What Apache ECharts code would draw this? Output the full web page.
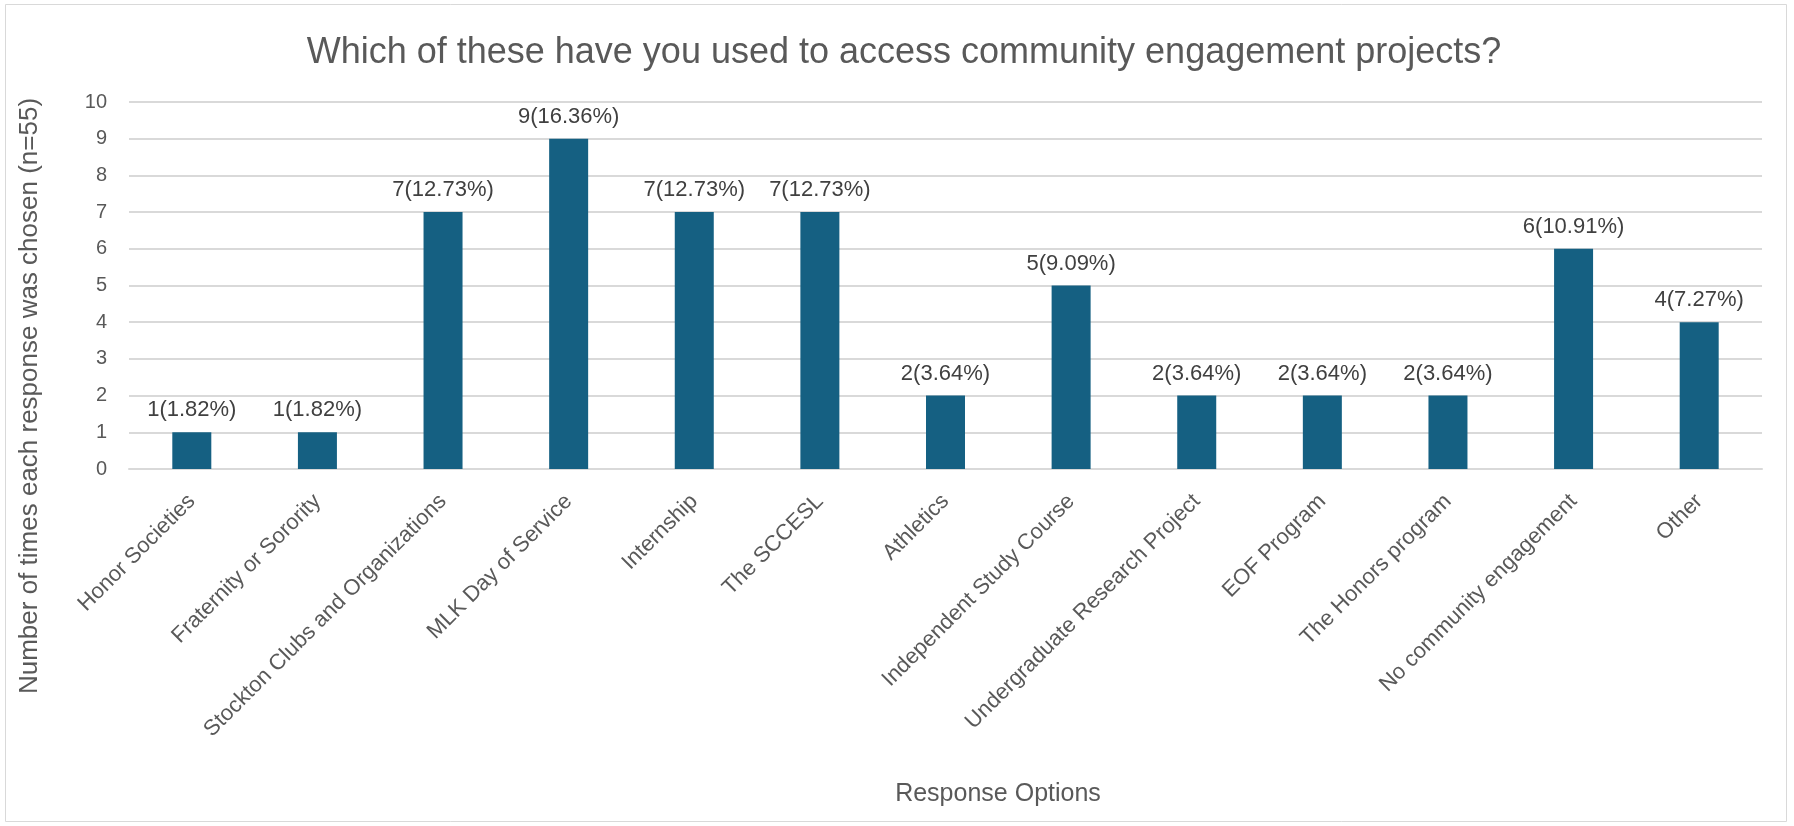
<!DOCTYPE html>
<html>
<head>
<meta charset="utf-8">
<script src="https://cdn.jsdelivr.net/npm/echarts@6/dist/echarts.min.js"></script>
<style>
html,body{margin:0;padding:0;background:#fff;}
#chart{width:1794px;height:826px;}
</style>
</head>
<body>
<div id="chart"></div>
<script>
const categories = ["Honor Societies","Fraternity or Sorority","Stockton Clubs and Organizations","MLK Day of Service","Internship","The SCCESL","Athletics","Independent Study Course","Undergraduate Research Project","EOF Program","The Honors program","No community engagement","Other"];
const counts = [1,1,7,9,7,7,2,5,2,2,2,6,4];
const percents = ["1.82","1.82","12.73","16.36","12.73","12.73","3.64","9.09","3.64","3.64","3.64","10.91","7.27"];
const yTicks = {min:0, max:10, interval:1};
const titleText = "Which of these have you used to access community engagement projects?";
const yTitle = "Number of times each response was chosen (n=55)";
const xTitle = "Response Options";

const chart = echarts.init(document.getElementById('chart'), null, {renderer:'canvas'});
const txt = '#595959';
const font = "'Liberation Sans', Arial, sans-serif";
chart.setOption({
  backgroundColor:'#ffffff',
  animation:false,
  graphic:[
    {type:'rect', shape:{x:5.5,y:4.5,width:1781,height:817}, style:{fill:'none', stroke:'#d9d9d9', lineWidth:1}},
    {type:'text', x:30, y:396, rotation:Math.PI/2,
     style:{text:yTitle, align:'center', verticalAlign:'middle', fontSize:26, fontFamily:font, fill:txt}}
  ],
  title:[
    {text:titleText, left:899, top:30, textAlign:'center',
     textStyle:{fontFamily:font, fontSize:36, fontWeight:'normal', color:txt}},
    {text:xTitle, left:993, top:777, textAlign:'center',
     textStyle:{fontFamily:font, fontSize:25, fontWeight:'normal', color:txt}}
  ],
  grid:{left:129, right:32, top:102, bottom:357, containLabel:false},
  xAxis:{
    type:'category', data:categories,
    axisTick:{show:false},
    axisLine:{lineStyle:{color:'#d9d9d9', width:2}},
    axisLabel:{interval:0, rotate:45, fontSize:22, color:txt, fontFamily:font, margin:29}
  },
  yAxis:{
    type:'value', min:yTicks.min, max:yTicks.max, interval:yTicks.interval,
    axisLabel:{fontSize:20, color:txt, fontFamily:font, margin:22},
    splitLine:{lineStyle:{color:'#d9d9d9', width:2}},
    axisLine:{show:false}, axisTick:{show:false}
  },
  series:[{
    type:'bar', data:counts, barWidth:39,
    itemStyle:{color:'#156082'},
    label:{show:true, position:'top', distance:11, fontSize:22, color:'#404040', fontFamily:font,
      formatter:p=>counts[p.dataIndex]+'('+percents[p.dataIndex]+'%)'}
  }]
});
</script>
</body>
</html>
